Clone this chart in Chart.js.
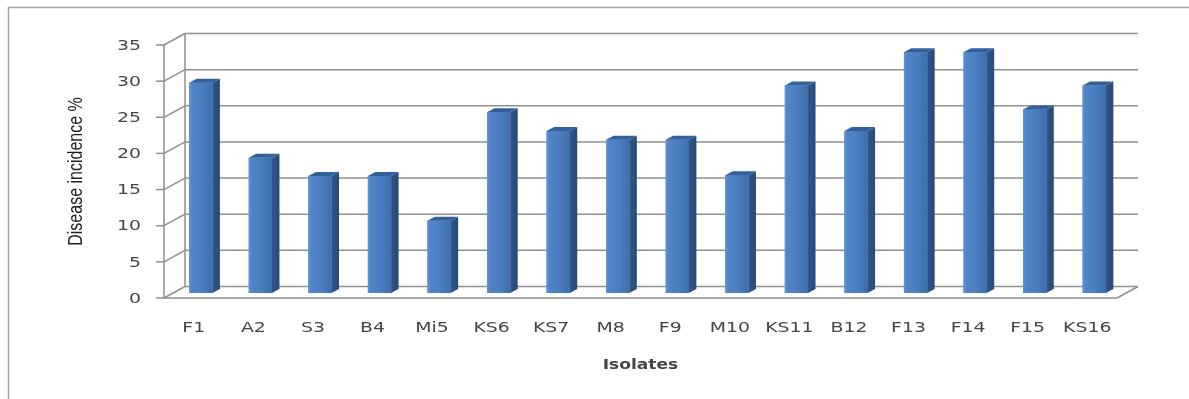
<!DOCTYPE html>
<html>
<head>
<meta charset="utf-8">
<script src="https://cdn.jsdelivr.net/npm/chart.js@4.4.0/dist/chart.umd.min.js"></script>
<style>
  html, body { margin: 0; padding: 0; background: #ffffff; overflow: hidden; }
  #wrap { width: 1189px; height: 399px; position: relative; }
  canvas { display: block; }
</style>
</head>
<body>
<div id="wrap"><canvas id="chart" width="1189" height="399"></canvas></div>
<script>
// Disease incidence (%) per isolate
const isolates = ['F1', 'A2', 'S3', 'B4', 'Mi5', 'KS6', 'KS7', 'M8', 'F9', 'M10', 'KS11', 'B12', 'F13', 'F14', 'F15', 'KS16'];
const incidence = [29.1, 18.7, 16.2, 16.2, 10.0, 25.0, 22.4, 21.2, 21.2, 16.3, 28.7, 22.4, 33.3, 33.3, 25.4, 28.7];
const yTicks = [0, 5, 10, 15, 20, 25, 30, 35];
const yTitle = 'Disease incidence %';
const xTitle = 'Isolates';

// pseudo-3D geometry
const WALL = { x: 21, y: -11.5 };      // front edge -> back wall
const BAR_SHIFT = { x: 7, y: -5 };     // columns stand partway into the floor
const BAR_DEPTH = { x: 7.5, y: -4 };   // visible side / top of each column
const STRETCH = 1.3;                   // wide lettering
const LINE = '#8f8f8f';
const TEXT = '#454545';

function line(ctx, x1, y1, x2, y2) {
  ctx.beginPath();
  ctx.moveTo(x1, y1);
  ctx.lineTo(x2, y2);
  ctx.stroke();
}

function poly(ctx, pts, fill) {
  ctx.beginPath();
  ctx.moveTo(pts[0][0], pts[0][1]);
  for (let i = 1; i < pts.length; i++) ctx.lineTo(pts[i][0], pts[i][1]);
  ctx.closePath();
  ctx.fillStyle = fill;
  ctx.fill();
}

function wideText(ctx, text, x, y, font, align, sx) {
  ctx.save();
  ctx.translate(x, y);
  ctx.scale(sx, 1);
  ctx.font = font;
  ctx.fillStyle = TEXT;
  ctx.textAlign = align;
  ctx.textBaseline = 'middle';
  ctx.fillText(text, 0, 0);
  ctx.restore();
}

const box3d = {
  id: 'box3d',
  beforeDatasetsDraw(chart) {
    const { ctx, chartArea: a, scales: { y } } = chart;
    const L = a.left, R = a.right;
    const y0 = y.getPixelForValue(yTicks[0]);
    const yTop = y.getPixelForValue(yTicks[yTicks.length - 1]);

    ctx.save();
    // outer frame (top and left edges)
    ctx.strokeStyle = '#a3a3a3';
    ctx.lineWidth = 1.5;
    line(ctx, 8, 7.5, chart.width, 7.5);
    line(ctx, 8.5, 7, 8.5, chart.height);

    ctx.strokeStyle = LINE;
    ctx.lineWidth = 1.5;
    // back wall gridlines + side-wall diagonals + tick marks
    yTicks.forEach(v => {
      const yv = y.getPixelForValue(v);
      line(ctx, L + WALL.x, yv + WALL.y, R + WALL.x, yv + WALL.y);
      line(ctx, L, yv, L + WALL.x, yv + WALL.y);
      line(ctx, L - 8, yv, L, yv);
    });
    // back wall left edge
    line(ctx, L + WALL.x, y0 + WALL.y, L + WALL.x, yTop + WALL.y);
    // front axis line
    line(ctx, L, y0, L, yTop);
    // floor front and right edges
    line(ctx, L, y0, R, y0);
    line(ctx, R, y0, R + WALL.x, y0 + WALL.y);
    ctx.restore();

    // columns are drawn shifted into the depth
    ctx.save();
    ctx.translate(BAR_SHIFT.x, BAR_SHIFT.y);
  },
  afterDatasetsDraw(chart) {
    const { ctx } = chart;
    const meta = chart.getDatasetMeta(0);
    meta.data.forEach(el => {
      const p = el.getProps(['x', 'y', 'base', 'width'], true);
      const l = p.x - p.width / 2, r = p.x + p.width / 2;
      const t = p.y, b = p.base;
      // front face shading
      const g = ctx.createLinearGradient(l, 0, r, 0);
      g.addColorStop(0, '#6595d3');
      g.addColorStop(0.12, '#4f85c8');
      g.addColorStop(0.55, '#4a7ebf');
      g.addColorStop(1, '#3e6eab');
      ctx.fillStyle = g;
      ctx.fillRect(l, t, r - l, b - t);
      // right side
      const gs = ctx.createLinearGradient(r, 0, r + BAR_DEPTH.x, 0);
      gs.addColorStop(0, '#2f5689');
      gs.addColorStop(1, '#284a77');
      poly(ctx, [[r, t], [r + BAR_DEPTH.x, t + BAR_DEPTH.y], [r + BAR_DEPTH.x, b + BAR_DEPTH.y], [r, b]], gs);
      // top
      poly(ctx, [[l, t], [r, t], [r + BAR_DEPTH.x, t + BAR_DEPTH.y], [l + BAR_DEPTH.x, t + BAR_DEPTH.y]], '#33609b');
    });
    ctx.restore();
  },
  afterDraw(chart) {
    const { ctx, chartArea: a, scales: { x, y } } = chart;
    const y0 = y.getPixelForValue(0);
    const tickFont = '14.5px "DejaVu Sans"';
    yTicks.forEach(v => {
      wideText(ctx, String(v), a.left - 23, y.getPixelForValue(v) + 1, tickFont, 'right', STRETCH);
    });
    isolates.forEach((name, i) => {
      wideText(ctx, name, x.getPixelForValue(i), y0 + 30, tickFont, 'center', STRETCH);
    });
    wideText(ctx, xTitle, (a.left + a.right) / 2, y0 + 67, 'bold 14px "DejaVu Sans"', 'center', 1.22);

    // vertical axis title
    ctx.save();
    ctx.translate(a.left - 88, (a.top + a.bottom) / 2);
    ctx.scale(1.25, 1);
    ctx.rotate(-Math.PI / 2);
    ctx.font = '16px "Liberation Sans"';
    ctx.fillStyle = '#1e1e1e';
    ctx.textAlign = 'center';
    ctx.textBaseline = 'middle';
    ctx.fillText(yTitle, 0, 0);
    ctx.restore();
  }
};

new Chart(document.getElementById('chart'), {
  type: 'bar',
  data: {
    labels: isolates,
    datasets: [{
      label: yTitle,
      data: incidence,
      backgroundColor: '#4a7ebf',
      borderWidth: 0,
      barPercentage: 0.39,
      categoryPercentage: 1,
      clip: false
    }]
  },
  options: {
    responsive: false,
    animation: false,
    devicePixelRatio: 1,
    layout: { padding: { left: 164, right: 72, top: 45, bottom: 101 } },
    plugins: { legend: { display: false }, tooltip: { enabled: false } },
    scales: {
      x: { type: 'category', display: false, offset: true },
      y: { display: false, min: 0, max: 35 }
    }
  },
  plugins: [box3d]
});
</script>
</body>
</html>
